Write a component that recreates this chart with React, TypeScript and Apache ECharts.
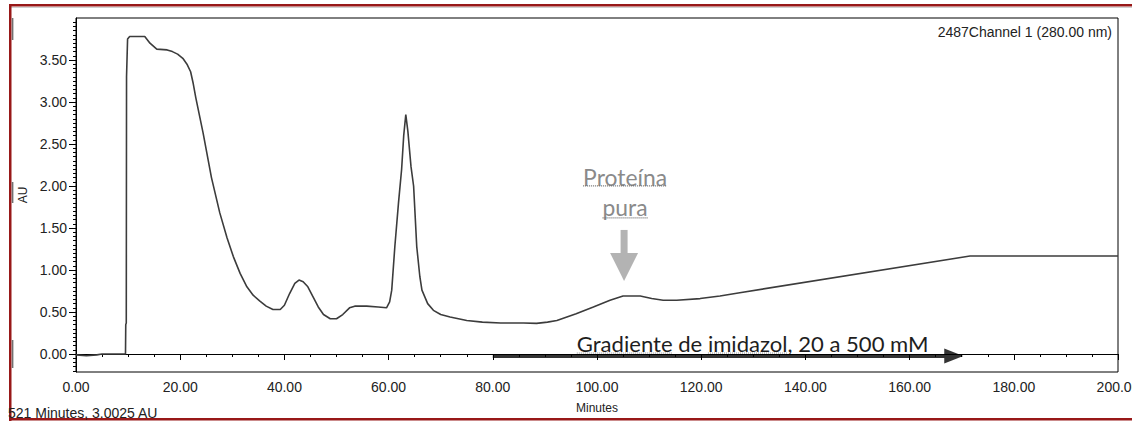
import React, { useEffect, useRef } from "react";
import * as echarts from "echarts";

// Elution time (minutes) and absorbance at 280 nm (AU)
const minutes = [
  0, 2, 4, 5, 9.5, 9.55, 9.65, 9.7, 9.9, 10.3,
  13.2, 14.2, 15.5, 17.5, 18.5, 19.5, 20.5, 21.3, 22, 22.5,
  23, 24.4, 26, 27.6, 29, 30.2, 31.5, 32.8, 34, 35.3,
  36.5, 37.8, 39.2, 40, 41, 42, 42.8, 43.6, 44.5, 45.5,
  46.5, 47.5, 48.8, 50, 51.2, 52.5, 53.5, 55.8, 58, 59.6,
  60.2, 60.6, 61.2, 61.9, 62.5, 62.9, 63.3, 63.7, 64.3, 64.8,
  65.4, 66, 66.4, 67.5, 68.6, 70, 71.8, 75, 78, 81.5,
  85.9, 88.4, 90.5, 92.3, 96, 99.3, 102.5, 105, 108.3, 110.5,
  112.7, 115.3, 119.8, 123.6, 127.4, 171.6, 200,
];
const au = [
  -0.01, -0.02, -0.01, 0, 0, 0.35, 0.37, 3.3, 3.75, 3.78,
  3.78, 3.7, 3.63, 3.62, 3.6, 3.57, 3.52, 3.45, 3.36, 3.22,
  3.05, 2.63, 2.1, 1.68, 1.38, 1.16, 0.96, 0.8, 0.7, 0.63,
  0.57, 0.53, 0.53, 0.58, 0.72, 0.84, 0.88, 0.86, 0.8, 0.68,
  0.56, 0.47, 0.42, 0.42, 0.47, 0.55, 0.57, 0.57, 0.56, 0.55,
  0.62, 0.76, 1.28, 1.8, 2.2, 2.6, 2.85, 2.65, 2.23, 2.0,
  1.28, 0.92, 0.76, 0.6, 0.52, 0.47, 0.44, 0.4, 0.38, 0.37,
  0.37, 0.365, 0.38, 0.4, 0.48, 0.56, 0.64, 0.69, 0.69, 0.66,
  0.64, 0.64, 0.66, 0.69, 0.73, 1.167, 1.167,
];

const yTickValues = [0, 0.5, 1, 1.5, 2, 2.5, 3, 3.5];
const yMin = -0.214;
const yMax = 4.0;
const xMin = 0;
const xMax = 200;
const xInterval = 20;

const channelLabel = "2487Channel 1 (280.00 nm)";
const cursorLabel = "521 Minutes, 3.0025 AU";
const gradientLabel = "Gradiente de imidazol, 20 a 500 mM";
const proteinLabel = ["Proteína", "pura"];
// annotation anchors in data units
const gradientFrom = [80, -0.024];
const gradientTo = [170.3, -0.024];
const proteinArrowTip = [105.2, 0.87];

const AXIS_FONT = "'Liberation Sans', Arial, sans-serif";
const HAND_FONT = "Lato, 'Open Sans', sans-serif";

export default function App() {
  const ref = useRef<HTMLDivElement>(null);

  useEffect(() => {
    const el = ref.current!;
    const chart = echarts.init(el, null, { renderer: "svg" });

    const minorTicks: number[] = [];
    for (let i = -4; i <= 79; i++) minorTicks.push(Math.round(i * 5) / 100);

    chart.setOption({
      animation: false,
      backgroundColor: "#ffffff",
      textStyle: { fontFamily: AXIS_FONT },
      grid: {
        left: 76,
        right: 14,
        top: 18,
        bottom: 49,
        outerBoundsMode: "none",
        containLabel: false,
        show: true,
        borderColor: "#000",
        borderWidth: 1,
        backgroundColor: "transparent",
      },
      xAxis: {
        type: "value",
        min: xMin,
        max: xMax,
        interval: xInterval,
        name: "Minutes",
        nameLocation: "middle",
        nameGap: 30,
        nameTextStyle: { fontSize: 12, color: "#222", fontFamily: AXIS_FONT },
        axisLine: { show: true, lineStyle: { color: "#000", width: 1 } },
        axisTick: { show: true, length: 6, lineStyle: { color: "#000" } },
        minorTick: { show: true, splitNumber: 4, length: 3, lineStyle: { color: "#000" } },
        splitLine: { show: false },
        axisLabel: {
          fontSize: 14,
          color: "#222",
          margin: 8,
          hideOverlap: false,
          formatter: (v: number) => v.toFixed(2),
        },
      },
      yAxis: [
        {
          type: "value",
          min: yMin,
          max: yMax,
          name: "AU",
          nameLocation: "middle",
          nameGap: 44,
          nameTextStyle: { fontSize: 12, color: "#222", fontFamily: AXIS_FONT },
          axisLine: { show: true, lineStyle: { color: "#000", width: 1 } },
          axisTick: { show: true, length: 7, customValues: yTickValues, lineStyle: { color: "#000" } },
          splitLine: { show: false },
          axisLabel: {
            fontSize: 14,
            color: "#222",
            margin: 9,
            customValues: yTickValues,
            formatter: (v: number) => v.toFixed(2),
          },
        },
        {
          type: "value",
          min: yMin,
          max: yMax,
          position: "left",
          axisLine: { show: false },
          axisTick: { show: true, length: 3, customValues: minorTicks, lineStyle: { color: "#000" } },
          axisLabel: { show: false },
          splitLine: { show: false },
        },
      ],
      series: [
        {
          type: "line",
          yAxisIndex: 0,
          data: minutes.map((m, i) => [m, au[i]]),
          showSymbol: false,
          symbol: "none",
          smooth: false,
          lineStyle: { color: "#3c3c3c", width: 1.6 },
          silent: true,
        },
      ],
    });

    const P = (p: number[]) =>
      chart.convertToPixel({ xAxisIndex: 0, yAxisIndex: 0 }, p) as number[];

    const ctx = document.createElement("canvas").getContext("2d")!;
    const measure = (s: string, font: string) => {
      ctx.font = font;
      return ctx.measureText(s).width;
    };

    const elements: any[] = [];

    // window frame (dark red) and artifacts
    elements.push(
      { type: "rect", shape: { x: 9, y: 4, width: 1123, height: 2.5 }, style: { fill: "#981818" } },
      { type: "rect", shape: { x: 9, y: 7, width: 1123, height: 1 }, style: { fill: "#d0d0d0" } },
      { type: "rect", shape: { x: 9, y: 4, width: 2.5, height: 417 }, style: { fill: "#981818" } },
      { type: "rect", shape: { x: 9, y: 418, width: 1123, height: 2.5 }, style: { fill: "#981818" } },
      { type: "rect", shape: { x: 11.8, y: 18, width: 1.6, height: 22 }, style: { fill: "#707070" } },
      { type: "rect", shape: { x: 11.8, y: 182, width: 1.6, height: 21 }, style: { fill: "#707070" } },
      { type: "rect", shape: { x: 11.8, y: 340, width: 1.6, height: 28 }, style: { fill: "#707070" } }
    );

    // top-right channel label & bottom-left cursor readout
    elements.push(
      {
        type: "text",
        x: 1112,
        y: 32,
        style: {
          text: channelLabel,
          font: `14px ${AXIS_FONT}`,
          fill: "#222",
          textAlign: "right",
          textVerticalAlign: "middle",
        },
      },
      {
        type: "text",
        x: 8,
        y: 413,
        style: {
          text: cursorLabel,
          font: `14px ${AXIS_FONT}`,
          fill: "#222",
          textAlign: "left",
          textVerticalAlign: "middle",
        },
      }
    );

    // gradient arrow
    const g0 = P(gradientFrom);
    const g1 = P(gradientTo);
    const ay = g0[1];
    elements.push(
      {
        type: "line",
        shape: { x1: g0[0], y1: ay, x2: g1[0] - 16, y2: ay },
        style: { stroke: "#333", lineWidth: 4 },
      },
      {
        type: "polygon",
        shape: { points: [[g1[0] - 19, ay - 7.5], [g1[0], ay], [g1[0] - 19, ay + 7.5]] },
        style: { fill: "#333" },
      }
    );
    let gfs = 20;
    const gw = measure(gradientLabel, `${gfs}px ${HAND_FONT}`);
    gfs = Math.max(16, Math.min(24, (20 * 352) / gw));
    const gFont = `${gfs}px ${HAND_FONT}`;
    const gLeft = g0[0] + 84;
    const gTextY = ay - 13;
    elements.push({
      type: "text",
      x: gLeft,
      y: gTextY,
      style: { text: gradientLabel, font: gFont, fill: "#1e1e1e", textAlign: "left", textVerticalAlign: "middle" },
    });
    const w1 = measure("Gradiente", gFont);
    const off2 = measure("Gradiente de ", gFont);
    const w2 = measure("imidazol", gFont);
    elements.push(
      {
        type: "line",
        shape: { x1: gLeft, y1: ay - 3, x2: gLeft + w1, y2: ay - 3 },
        style: { stroke: "#8a8a8a", lineWidth: 1, lineDash: [1, 1] },
      },
      {
        type: "line",
        shape: { x1: gLeft + off2, y1: ay - 3, x2: gLeft + off2 + w2, y2: ay - 3 },
        style: { stroke: "#8a8a8a", lineWidth: 1, lineDash: [1, 1] },
      }
    );

    // protein arrow + label
    const t = P(proteinArrowTip);
    const tx = t[0];
    const ty = t[1];
    elements.push(
      { type: "rect", shape: { x: tx - 3.5, y: ty - 51, width: 7, height: 24 }, style: { fill: "#b3b3b3" } },
      {
        type: "polygon",
        shape: { points: [[tx - 14, ty - 28], [tx + 14, ty - 28], [tx, ty]] },
        style: { fill: "#b3b3b3" },
      }
    );
    let pfs = 20;
    const pw = measure(proteinLabel[0], `${pfs}px ${HAND_FONT}`);
    pfs = Math.max(16, Math.min(24, (20 * 84) / pw));
    const pFont = `${pfs}px ${HAND_FONT}`;
    const pcx = tx + 1;
    const lines = [
      { s: proteinLabel[0], y: ty - 104, uy: ty - 95 },
      { s: proteinLabel[1], y: ty - 74, uy: ty - 63 },
    ];
    lines.forEach((ln) => {
      const w = measure(ln.s, pFont);
      elements.push(
        {
          type: "text",
          x: pcx,
          y: ln.y,
          style: { text: ln.s, font: pFont, fill: "#8a8a8a", textAlign: "center", textVerticalAlign: "middle" },
        },
        {
          type: "line",
          shape: { x1: pcx - w / 2, y1: ln.uy, x2: pcx + w / 2, y2: ln.uy },
          style: { stroke: "#6f6f6f", lineWidth: 1.2, lineDash: [1, 1] },
        }
      );
    });

    chart.setOption({ graphic: { elements } });

    return () => chart.dispose();
  }, []);

  return (
    <div
      ref={ref}
      style={{ position: "absolute", left: 0, top: 0, width: 1132, height: 421, background: "#fff" }}
    />
  );
}
